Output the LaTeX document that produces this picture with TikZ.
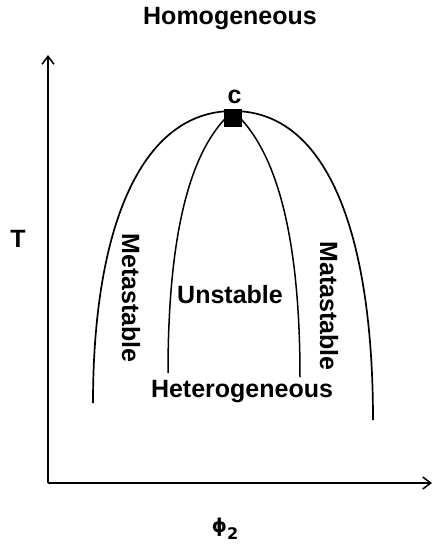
\documentclass[tikz,border=0pt]{standalone}
\usepackage{fontspec}
\setmainfont{Liberation Sans}
\newfontfamily\phifont{DejaVu Sans}
\usetikzlibrary{arrows.meta}
\tikzset{
  binodal/.style={line width=1.7pt},
  spinodal/.style={line width=1.5pt},
  axis/.style={line width=1.5pt,-{Straight Barb[length=8pt,width=12pt]}},
  region/.style={font=\bfseries\fontsize{25}{30}\selectfont,inner sep=0pt},
  critpt/.style={rectangle,fill=black,minimum size=18pt,inner sep=0pt}
}

\begin{document}
\begin{tikzpicture}[x=1pt,y=-1pt]
\useasboundingbox (0,0) rectangle (433,547);

% axes
\coordinate (O) at (48,483);
\coordinate (Ttop) at (48,55);
\coordinate (Phiend) at (432,483);
\draw[axis] (O) -- (Ttop);
\draw[axis] (O) -- (Phiend);
\node[region,anchor=base] (Tlab) at (18,247) {T};
\node[region,font=\phifont\bfseries\fontsize{19}{22}\selectfont,anchor=base] (philab) at (225,532)
  {ϕ{\fontsize{16}{16}\selectfont\raisebox{-7pt}{2}}};

% binodal and spinodal meeting at the critical point
\coordinate (crit) at (233,111);
\coordinate (binL) at (93,403);
\coordinate (binR) at (373,420);
\coordinate (spinL) at (168,373);
\coordinate (spinR) at (300,377);
\draw[binodal] (binL) .. controls (93,230) and (140,111) .. (crit)
  .. controls (330,111) and (373,240) .. (binR);
\draw[spinodal] (spinL) .. controls (168,200) and (202,138) .. (crit)
  .. controls (263,138) and (300,200) .. (spinR);
\node[critpt] (cp) at (233,118) {};
\node[region,anchor=base] (clab) at (234.5,103) {c};

% regions
\node[region,anchor=base] (homog) at (230,24) {Homogeneous};
\node[region,anchor=base] (heterog) at (242,397) {Heterogeneous};
\node[region,anchor=base] (unst) at (230,303) {Unstable};
\node[region,rotate=-90] (metaL) at (131,298) {Metastable};
\node[region,rotate=-90] (metaR) at (329,306) {Matastable};

\end{tikzpicture}
\end{document}
